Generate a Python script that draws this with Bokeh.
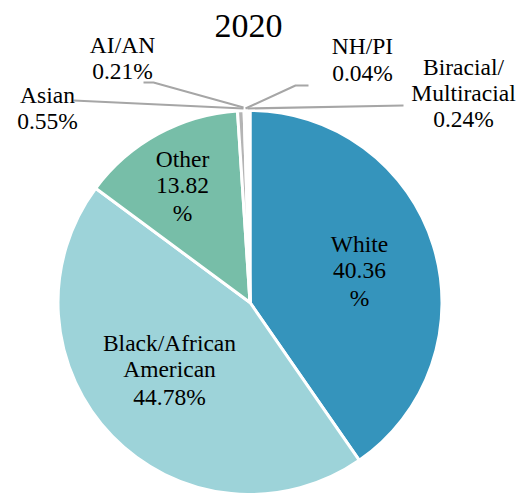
import math
from bokeh.plotting import figure
from bokeh.models import Range1d, ColumnDataSource
from bokeh.core.properties import value
from bokeh.embed import file_html
from bokeh.resources import INLINE

# ---- data ----
title = "2020"
categories = ["White", "Black/African American", "Other", "Asian", "AI/AN", "NH/PI", "Biracial/Multiracial"]
percents = [40.36, 44.78, 13.82, 0.55, 0.21, 0.04, 0.24]
colors = ["#3594bc", "#9dd3d9", "#77bea8", "#b4b4b4", "#d9d9d9", "#e6e6e6", "#c8c8c8"]

W, H = 516, 493
FONT = value("Liberation Serif")
def fx(px):
    return px
def fy(py):
    return H - py

p = figure(width=W, height=H, output_backend="svg", toolbar_location=None,
           x_range=Range1d(0, W), y_range=Range1d(0, H), min_border=0)
p.axis.visible = False
p.grid.visible = False
p.outline_line_color = None
p.background_fill_color = "white"

# ---- wedges ----
cx, cy, r = fx(249.5), fy(302), 192
total = sum(percents)
starts, ends = [], []
cum = 0.0
for v in percents:
    starts.append(math.pi / 2 - 2 * math.pi * cum / total)
    cum += v
    ends.append(math.pi / 2 - 2 * math.pi * cum / total)
src = ColumnDataSource(dict(x=[cx] * len(percents), y=[cy] * len(percents),
                            start=starts, end=ends, color=colors, cat=categories))
p.wedge(x="x", y="y", radius=r, start_angle="start", end_angle="end", direction="clock",
        fill_color="color", line_color="white", line_width=3, source=src)

# ---- leader lines (page px) ----
leaders = {
    "Asian": [(73, 100), (243, 108)],
    "AI/AN": [(143, 82), (153, 82), (243, 107)],
    "NH/PI": [(308, 85), (295, 85), (245, 108)],
    "Biracial/Multiracial": [(403, 105), (247, 108)],
}
for pts in leaders.values():
    p.line([fx(a) for a, b in pts], [fy(b) for a, b in pts], line_color="#a6a6a6", line_width=2)

# ---- labels ----
def pct(v):
    return f"{v:.2f}%"
label_lines = {
    "White": (["White", f"{percents[0]:.2f}", "%"], 359, [243, 270, 297]),
    "Black/African American": (["Black/African", "American", pct(percents[1])], 169, [342, 368, 396]),
    "Other": (["Other", f"{percents[2]:.2f}", "%"], 182, [158, 185, 212]),
    "Asian": (["Asian", pct(percents[3])], 47, [94, 120]),
    "AI/AN": (["AI/AN", pct(percents[4])], 122, [44, 70]),
    "NH/PI": (["NH/PI", pct(percents[5])], 362, [45, 72]),
    "Biracial/Multiracial": (["Biracial/", "Multiracial", pct(percents[6])], 463, [66, 92, 118]),
}
xs, ys, ts = [], [], []
for lines, lx, lys in label_lines.values():
    for t, ly in zip(lines, lys):
        xs.append(fx(lx)); ys.append(fy(ly)); ts.append(t)
p.text(x=xs, y=ys, text=ts, text_font=FONT, text_font_size="23.5px",
       text_align="center", text_baseline="middle", text_color="#000000")

p.text(x=[fx(248)], y=[fy(25)], text=[title], text_font=FONT,
       text_font_size="34px", text_align="center", text_baseline="middle", text_color="#000000")

open("out.html", "w").write(file_html(p, INLINE))
